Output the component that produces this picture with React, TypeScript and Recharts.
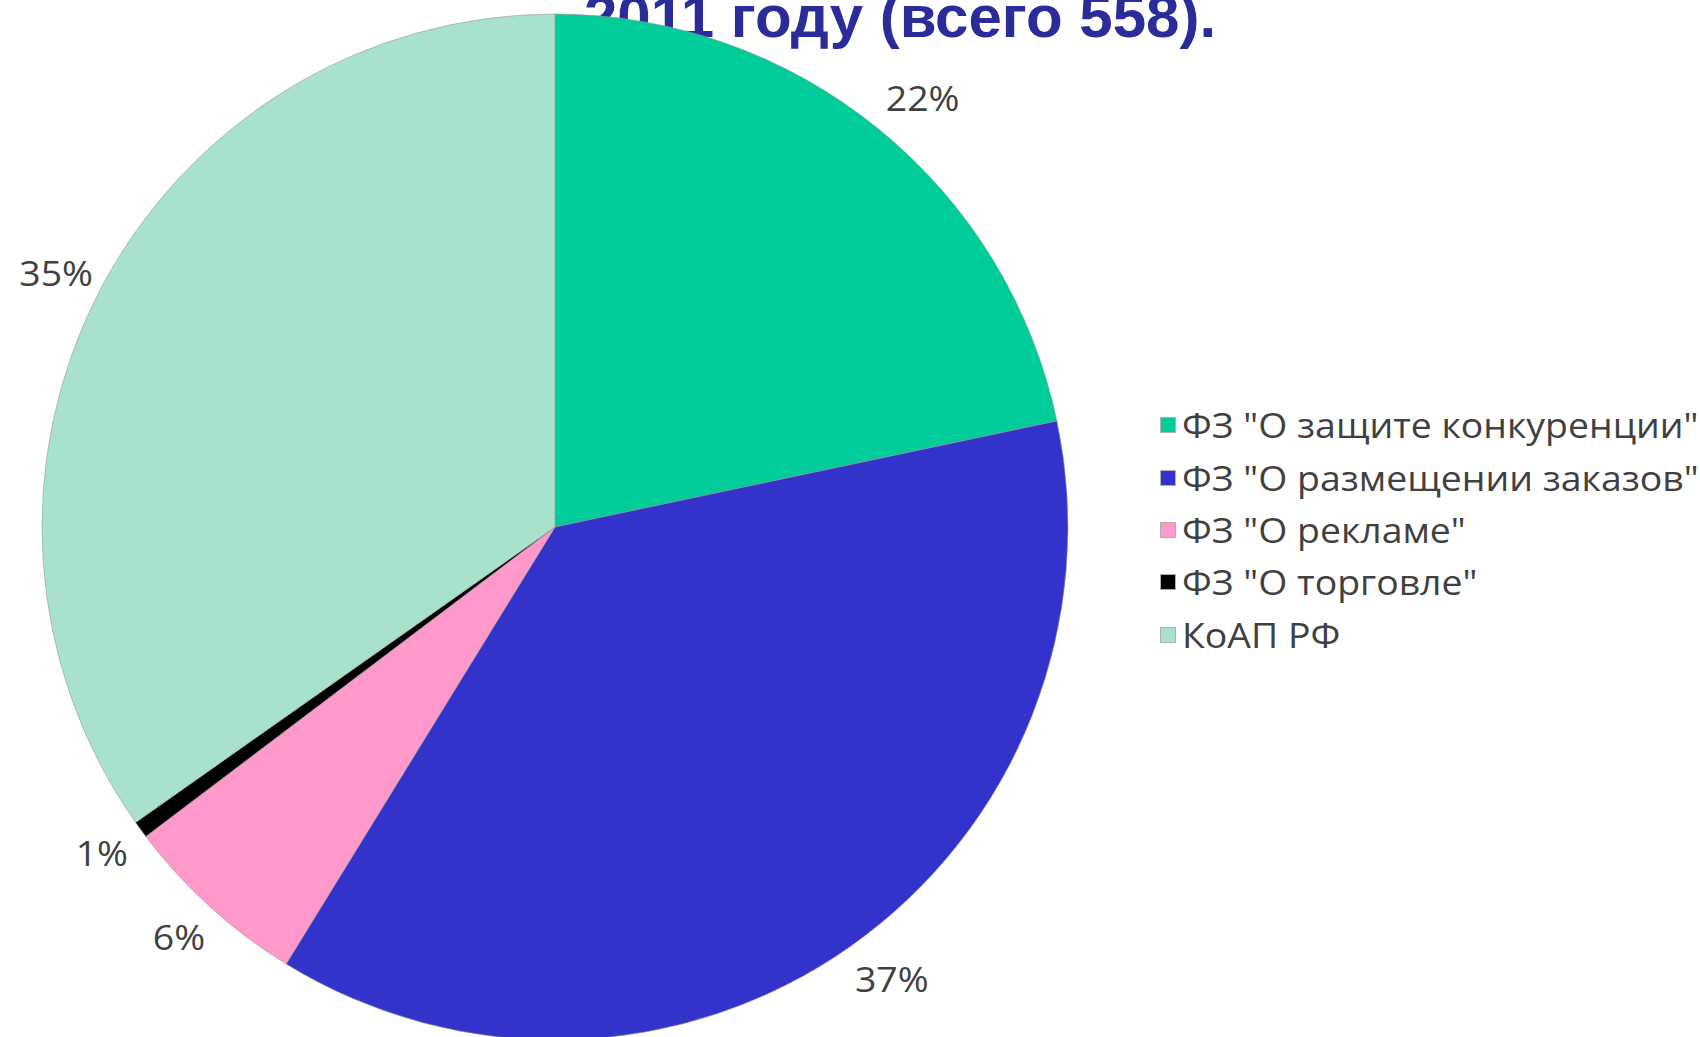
import React from 'react';
import { PieChart, Pie, Cell, Legend } from 'recharts';

const categories = [
  'ФЗ "О защите конкуренции"',
  'ФЗ "О размещении заказов"',
  'ФЗ "О рекламе"',
  'ФЗ "О торговле"',
  'КоАП РФ',
];
const counts = [121, 207, 33, 3, 194];
const percentLabels = ['22%', '37%', '6%', '1%', '35%'];
const colors = ['#00CC99', '#3333CC', '#FF99CC', '#000000', '#A9E2CC'];
const titleText = '2011 году (всего 558).';

const data = categories.map((name, i) => ({ name, value: counts[i], label: percentLabels[i] }));

const RADIAN = Math.PI / 180;
const FONT = '"Open Sans", "Noto Sans", sans-serif';

const renderLabel = (props: any) => {
  const { cx, cy, midAngle, outerRadius, index } = props;
  const rx = outerRadius + 58;
  const ry = outerRadius + 40;
  const x = cx + 8 + rx * Math.cos(-midAngle * RADIAN);
  const y = cy + ry * Math.sin(-midAngle * RADIAN);
  return (
    <text
      x={0}
      y={0}
      transform={`translate(${x},${y}) scale(1.1,1)`}
      textAnchor="middle"
      dominantBaseline="central"
      fill="#404040"
      fontSize={34}
      fontFamily={FONT}
    >
      {percentLabels[index]}
    </text>
  );
};

const renderLegend = () => {
  return (
    <div style={{ fontFamily: FONT, fontSize: 34, color: '#404040' }}>
      {categories.map((name, i) => (
        <div key={i} style={{ display: 'flex', alignItems: 'center', height: 52.4 }}>
          <span
            style={{
              display: 'inline-block',
              width: 16,
              height: 16,
              background: colors[i],
              border: '1px solid #b0b0b0',
              boxSizing: 'border-box',
              marginRight: 6,
              flexShrink: 0,
            }}
          />
          <span style={{ whiteSpace: 'nowrap', display: 'inline-block', transform: 'scaleX(1.1)', transformOrigin: 'left center' }}>
            {name}
          </span>
        </div>
      ))}
    </div>
  );
};

export default function App() {
  return (
    <div style={{ position: 'absolute', left: 0, top: 0, width: 1700, height: 1037, background: '#fff', overflow: 'hidden' }}>
      <div
        style={{
          position: 'absolute',
          left: 900,
          top: -13,
          transform: 'translateX(-50%)',
          fontFamily: '"Liberation Sans", Arial, sans-serif',
          fontWeight: 'bold',
          fontSize: 60,
          lineHeight: '60px',
          color: '#2B2B99',
          whiteSpace: 'nowrap',
          zIndex: 0,
        }}
      >
        {titleText}
      </div>
      <div style={{ position: 'absolute', left: 0, top: 0, zIndex: 1 }}>
        <PieChart width={1700} height={1037} margin={{ top: 0, right: 0, bottom: 0, left: 0 }}>
          <Pie
            data={data}
            dataKey="value"
            nameKey="name"
            cx={555}
            cy={527}
            outerRadius={513}
            startAngle={90}
            endAngle={-270}
            stroke="#9a9a9a"
            strokeWidth={0.6}
            label={renderLabel}
            labelLine={false}
            isAnimationActive={false}
          >
            {data.map((d, i) => (
              <Cell key={i} fill={colors[i]} />
            ))}
          </Pie>
          <Legend
            content={renderLegend}
            layout="vertical"
            wrapperStyle={{ position: 'absolute', left: 1160, top: 399, width: 540 }}
          />
        </PieChart>
      </div>
    </div>
  );
}
